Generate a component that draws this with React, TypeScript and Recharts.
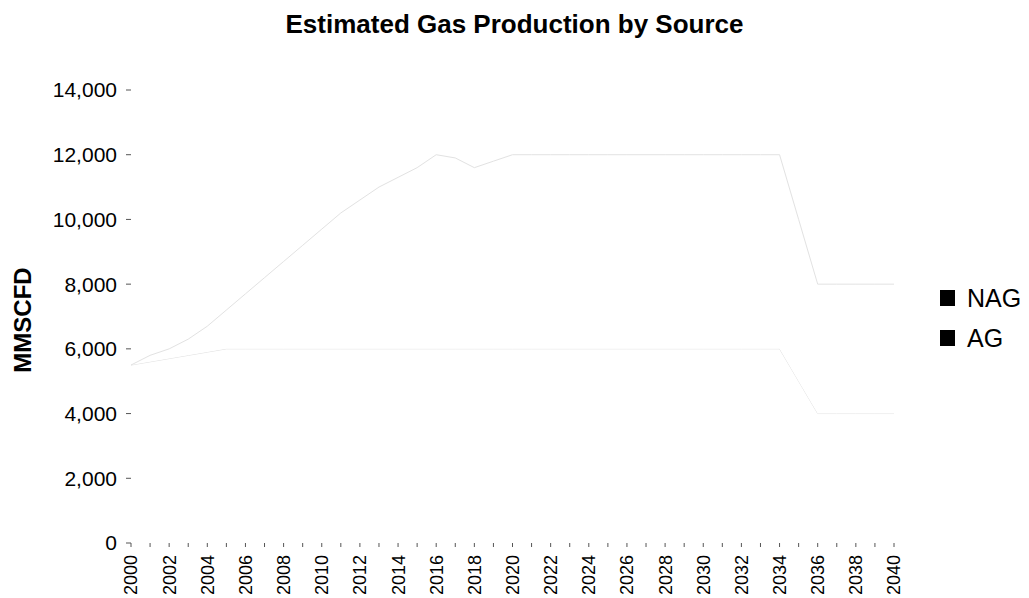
import { AreaChart, Area, XAxis, YAxis } from "recharts";

// ---------------------------------------------------------------------------
// Estimated Gas Production by Source — stacked area (AG + NAG), MMSCFD
// ---------------------------------------------------------------------------

const years = [
  2000, 2001, 2002, 2003, 2004, 2005, 2006, 2007, 2008, 2009, 2010, 2011, 2012, 2013,
  2014, 2015, 2016, 2017, 2018, 2019, 2020, 2021, 2022, 2023, 2024, 2025, 2026, 2027,
  2028, 2029, 2030, 2031, 2032, 2033, 2034, 2035, 2036, 2037, 2038, 2039, 2040,
];

// associated gas (bottom layer)
const agValues = [
  5500, 5600, 5700, 5800, 5900, 6000, 6000, 6000, 6000, 6000, 6000, 6000, 6000, 6000,
  6000, 6000, 6000, 6000, 6000, 6000, 6000, 6000, 6000, 6000, 6000, 6000, 6000, 6000,
  6000, 6000, 6000, 6000, 6000, 6000, 6000, 5000, 4000, 4000, 4000, 4000, 4000,
];

// non-associated gas (stacked on top)
const nagValues = [
  0, 200, 300, 500, 800, 1200, 1700, 2200, 2700, 3200, 3700, 4200, 4600, 5000,
  5300, 5600, 6000, 5900, 5600, 5800, 6000, 6000, 6000, 6000, 6000, 6000, 6000, 6000,
  6000, 6000, 6000, 6000, 6000, 6000, 6000, 5000, 4000, 4000, 4000, 4000, 4000,
];

const seriesNames = ["NAG", "AG"];

const yTicks = [0, 2000, 4000, 6000, 8000, 10000, 12000, 14000];

const data = years.map((year, i) => ({
  year,
  AG: agValues[i],
  NAG: nagValues[i],
}));

const FONT = "'Liberation Sans', Arial, sans-serif";

function YearTick(props: any) {
  const { x, y, payload } = props;
  if (payload.value % 2 !== 0) return null;
  return (
    <g transform={`translate(${x},${y})`}>
      <text
        transform="rotate(-90)"
        x={0}
        y={0}
        dy="0.36em"
        textAnchor="end"
        fontSize={18}
        fontFamily={FONT}
        fill="#000"
      >
        {payload.value}
      </text>
    </g>
  );
}

export default function App() {
  return (
    <div
      style={{
        position: "absolute",
        left: 0,
        top: 0,
        width: 1029,
        height: 598,
        background: "#fff",
        fontFamily: FONT,
      }}
    >
      {/* Title */}
      <div
        style={{
          position: "absolute",
          left: 0,
          width: 1029,
          top: 9,
          textAlign: "center",
          fontSize: 26,
          fontWeight: "bold",
        }}
      >
        Estimated Gas Production by Source
      </div>

      {/* Y axis title */}
      <div
        style={{
          position: "absolute",
          left: 23,
          top: 320,
          transform: "translate(-50%, -50%) rotate(-90deg)",
          fontSize: 24,
          fontWeight: "bold",
          whiteSpace: "nowrap",
        }}
      >
        MMSCFD
      </div>

      {/* Legend */}
      <div style={{ position: "absolute", left: 940, top: 278 }}>
        {seriesNames.map((name) => (
          <div
            key={name}
            style={{ display: "flex", alignItems: "center", height: 40, fontSize: 25 }}
          >
            <span
              style={{
                display: "inline-block",
                width: 15,
                height: 16,
                background: "#000",
                marginRight: 12,
              }}
            />
            {name}
          </div>
        ))}
      </div>

      <AreaChart
        width={1029}
        height={598}
        data={data}
        margin={{ top: 90, right: 135, bottom: 0, left: 0 }}
      >
        <XAxis
          dataKey="year"
          interval={0}
          tick={<YearTick />}
          tickSize={4}
          tickMargin={8}
          tickLine={{ stroke: "#555" }}
          axisLine={false}
          height={55}
        />
        <YAxis
          domain={[0, 14000]}
          ticks={yTicks}
          width={131}
          tickSize={5}
          tickMargin={9}
          tickLine={{ stroke: "#555" }}
          axisLine={false}
          tick={{ fontSize: 21, fill: "#000", fontFamily: FONT }}
          tickFormatter={(v: number) => v.toLocaleString("en-US")}
        />
        <Area
          type="linear"
          dataKey="AG"
          stackId="gas"
          fill="#ffffff"
          fillOpacity={1}
          stroke="#e2e2e2"
          strokeWidth={1}
          isAnimationActive={false}
        />
        <Area
          type="linear"
          dataKey="NAG"
          stackId="gas"
          fill="#ffffff"
          fillOpacity={1}
          stroke="#e2e2e2"
          strokeWidth={1}
          isAnimationActive={false}
        />
      </AreaChart>
    </div>
  );
}
